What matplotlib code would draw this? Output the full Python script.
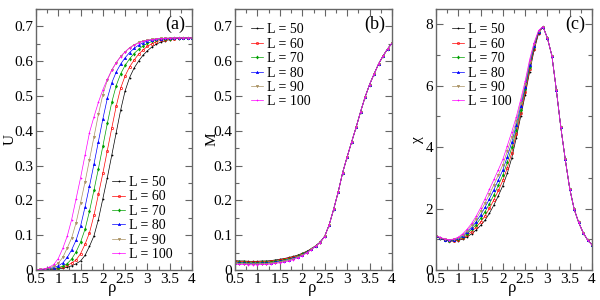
import matplotlib
matplotlib.use("Agg")
import matplotlib.pyplot as plt
from matplotlib.ticker import MultipleLocator

plt.rcParams['font.family'] = ['Liberation Serif', 'DejaVu Serif']
plt.rcParams['mathtext.fontset'] = 'stix'

rho = [0.5, 0.6, 0.7, 0.8, 0.9, 1.0, 1.1, 1.2, 1.3, 1.4, 1.5, 1.6, 1.7, 1.8,
       1.9, 2.0, 2.1, 2.2, 2.3, 2.4, 2.5, 2.6, 2.7, 2.8, 2.9, 3.0, 3.1, 3.2,
       3.3, 3.4, 3.5, 3.6, 3.7, 3.8, 3.9, 4.0]

sizes = [50, 60, 70, 80, 90, 100]

# Binder cumulant U
U_50 = [0.000, 0.000, 0.001, 0.001, 0.002, 0.003, 0.005, 0.008, 0.012, 0.018, 0.026, 0.042,
        0.068, 0.098, 0.145, 0.205, 0.265, 0.330, 0.395, 0.460, 0.515, 0.553, 0.580, 0.600,
        0.617, 0.630, 0.641, 0.649, 0.655, 0.659, 0.662, 0.664, 0.665, 0.666, 0.667, 0.667]
U_60 = [0.000, 0.001, 0.001, 0.002, 0.003, 0.006, 0.009, 0.013, 0.020, 0.029, 0.047, 0.074,
        0.107, 0.157, 0.217, 0.278, 0.343, 0.408, 0.471, 0.523, 0.558, 0.584, 0.603, 0.620,
        0.632, 0.643, 0.650, 0.656, 0.660, 0.662, 0.664, 0.665, 0.666, 0.667, 0.667, 0.667]
U_70 = [0.000, 0.001, 0.001, 0.002, 0.004, 0.007, 0.011, 0.018, 0.032, 0.052, 0.080, 0.117,
        0.169, 0.229, 0.291, 0.356, 0.421, 0.482, 0.530, 0.564, 0.588, 0.607, 0.622, 0.634,
        0.644, 0.651, 0.657, 0.660, 0.663, 0.664, 0.665, 0.666, 0.667, 0.667, 0.667, 0.667]
U_80 = [0.000, 0.001, 0.002, 0.004, 0.007, 0.012, 0.020, 0.036, 0.058, 0.086, 0.126, 0.181,
        0.241, 0.304, 0.369, 0.434, 0.493, 0.538, 0.569, 0.592, 0.610, 0.625, 0.637, 0.646,
        0.653, 0.658, 0.661, 0.663, 0.665, 0.666, 0.666, 0.667, 0.667, 0.667, 0.667, 0.667]
U_90 = [0.001, 0.002, 0.003, 0.006, 0.011, 0.020, 0.036, 0.063, 0.092, 0.136, 0.193, 0.253,
        0.317, 0.382, 0.447, 0.504, 0.545, 0.575, 0.596, 0.614, 0.627, 0.639, 0.647, 0.654,
        0.658, 0.661, 0.663, 0.665, 0.666, 0.666, 0.667, 0.667, 0.667, 0.667, 0.667, 0.667]
U_100 = [0.001, 0.002, 0.004, 0.008, 0.016, 0.033, 0.062, 0.097, 0.145, 0.205, 0.265, 0.330,
         0.395, 0.440, 0.482, 0.518, 0.548, 0.574, 0.596, 0.613, 0.627, 0.638, 0.646, 0.652,
         0.657, 0.660, 0.662, 0.664, 0.665, 0.666, 0.666, 0.667, 0.667, 0.667, 0.667, 0.667]

# Order parameter M
M_50 = [0.027, 0.026, 0.026, 0.025, 0.025, 0.025, 0.026, 0.026, 0.027, 0.029, 0.031, 0.033,
        0.036, 0.039, 0.043, 0.048, 0.054, 0.061, 0.070, 0.080, 0.097, 0.130, 0.175, 0.224,
        0.280, 0.325, 0.368, 0.410, 0.455, 0.497, 0.533, 0.563, 0.592, 0.615, 0.635, 0.652]
M_60 = [0.025, 0.024, 0.024, 0.023, 0.023, 0.023, 0.024, 0.024, 0.025, 0.027, 0.029, 0.031,
        0.034, 0.037, 0.041, 0.046, 0.053, 0.060, 0.070, 0.080, 0.097, 0.130, 0.175, 0.224,
        0.280, 0.325, 0.368, 0.410, 0.455, 0.497, 0.533, 0.563, 0.592, 0.615, 0.635, 0.652]
M_70 = [0.023, 0.022, 0.022, 0.021, 0.021, 0.021, 0.022, 0.022, 0.023, 0.025, 0.027, 0.029,
        0.032, 0.035, 0.039, 0.045, 0.052, 0.060, 0.069, 0.080, 0.097, 0.130, 0.175, 0.224,
        0.280, 0.325, 0.368, 0.410, 0.455, 0.497, 0.533, 0.563, 0.592, 0.615, 0.635, 0.652]
M_80 = [0.021, 0.020, 0.020, 0.019, 0.019, 0.019, 0.020, 0.020, 0.021, 0.023, 0.025, 0.027,
        0.030, 0.034, 0.038, 0.044, 0.051, 0.059, 0.069, 0.080, 0.097, 0.130, 0.175, 0.224,
        0.280, 0.325, 0.368, 0.410, 0.455, 0.497, 0.533, 0.563, 0.592, 0.615, 0.635, 0.652]
M_90 = [0.019, 0.018, 0.018, 0.017, 0.017, 0.017, 0.018, 0.018, 0.019, 0.021, 0.023, 0.025,
        0.028, 0.032, 0.037, 0.043, 0.050, 0.059, 0.069, 0.079, 0.097, 0.130, 0.175, 0.224,
        0.280, 0.325, 0.368, 0.410, 0.455, 0.497, 0.533, 0.563, 0.592, 0.615, 0.635, 0.652]
M_100 = [0.017, 0.016, 0.016, 0.015, 0.015, 0.015, 0.016, 0.016, 0.017, 0.019, 0.021, 0.023,
         0.026, 0.030, 0.035, 0.041, 0.049, 0.058, 0.068, 0.079, 0.096, 0.130, 0.175, 0.224,
         0.280, 0.325, 0.368, 0.410, 0.455, 0.497, 0.533, 0.563, 0.592, 0.615, 0.635, 0.652]

# Susceptibility chi
C_50 = [1.10, 1.02, 0.97, 0.94, 0.94, 0.96, 1.01, 1.08, 1.18, 1.30, 1.45, 1.62,
        1.85, 2.12, 2.42, 2.75, 3.15, 3.65, 4.30, 5.00, 5.70, 6.45, 7.15, 7.70,
        7.93, 7.55, 6.98, 5.86, 4.65, 3.60, 2.65, 1.98, 1.55, 1.22, 0.98, 0.82]
C_60 = [1.10, 1.03, 0.98, 0.95, 0.95, 0.98, 1.04, 1.13, 1.25, 1.39, 1.56, 1.76,
        2.01, 2.29, 2.59, 2.92, 3.33, 3.82, 4.44, 5.11, 5.79, 6.53, 7.20, 7.72,
        7.93, 7.55, 6.98, 5.86, 4.65, 3.60, 2.65, 1.98, 1.55, 1.22, 0.98, 0.82]
C_70 = [1.11, 1.04, 0.99, 0.96, 0.97, 1.00, 1.08, 1.18, 1.32, 1.48, 1.68, 1.90,
        2.16, 2.45, 2.76, 3.09, 3.51, 3.99, 4.57, 5.22, 5.88, 6.61, 7.25, 7.74,
        7.93, 7.55, 6.98, 5.86, 4.65, 3.60, 2.65, 1.98, 1.55, 1.22, 0.98, 0.82]
C_80 = [1.11, 1.04, 0.99, 0.97, 0.98, 1.03, 1.11, 1.23, 1.38, 1.57, 1.79, 2.04,
        2.32, 2.62, 2.93, 3.26, 3.69, 4.16, 4.71, 5.33, 5.97, 6.69, 7.30, 7.76,
        7.93, 7.55, 6.98, 5.86, 4.65, 3.60, 2.65, 1.98, 1.55, 1.22, 0.98, 0.82]
C_90 = [1.12, 1.05, 1.00, 0.98, 1.00, 1.05, 1.15, 1.28, 1.45, 1.66, 1.91, 2.18,
        2.47, 2.78, 3.10, 3.43, 3.87, 4.33, 4.84, 5.44, 6.06, 6.77, 7.35, 7.78,
        7.93, 7.55, 6.98, 5.86, 4.65, 3.60, 2.65, 1.98, 1.55, 1.22, 0.98, 0.82]
C_100 = [1.12, 1.06, 1.01, 0.99, 1.01, 1.07, 1.18, 1.33, 1.52, 1.75, 2.02, 2.32,
         2.63, 2.95, 3.27, 3.60, 4.05, 4.50, 4.98, 5.55, 6.15, 6.85, 7.40, 7.80,
         7.93, 7.55, 6.98, 5.86, 4.65, 3.60, 2.65, 1.98, 1.55, 1.22, 0.98, 0.82]

U_all = [U_50, U_60, U_70, U_80, U_90, U_100]
M_all = [M_50, M_60, M_70, M_80, M_90, M_100]
C_all = [C_50, C_60, C_70, C_80, C_90, C_100]

colors = ['black', '#ff0000', '#00a000', '#0000ff', '#a89060', '#ff00ff']
markers = ['.', 'o', 'd', '^', 'v', '+']

fig = plt.figure(figsize=(6, 3), dpi=100)
W, H = 600.0, 300.0
boxes = [(36, 192), (235, 392), (436, 592)]
top_px, bot_px = 9, 270

panels = [
    (U_all, 'U', (0, 0.75), 0.1, 0.05, '(a)', (0.49, 0.36), -0.125),
    (M_all, 'M', (0, 0.75), 0.1, 0.05, '(b)', (0.10, 0.945), -0.105),
    (C_all, 'χ', (0, 8.5), 2, 1, '(c)', (0.10, 0.945), -0.08),
]

for (l, r), (data, ylab, ylim, ymaj, ymin, tag, legpos, ylx) in zip(boxes, panels):
    ax = fig.add_axes([l / W, 1 - bot_px / H, (r - l) / W, (bot_px - top_px) / H])
    for L, y, c, m in zip(sizes, data, colors, markers):
        mfc = 'none' if m == 'o' else c
        ax.plot(rho, y, color=c, lw=0.5, marker=m, ms=1.6, mew=0.5,
                mfc=mfc, label='L = %d' % L)
    ax.set_xlim(0.5, 4)
    ax.set_ylim(*ylim)
    ax.xaxis.set_major_locator(MultipleLocator(0.5))
    ax.xaxis.set_minor_locator(MultipleLocator(0.25))
    ax.yaxis.set_major_locator(MultipleLocator(ymaj))
    ax.yaxis.set_minor_locator(MultipleLocator(ymin))
    ax.xaxis.set_major_formatter(plt.FuncFormatter(lambda v, p: ('%g' % v)))
    ax.yaxis.set_major_formatter(plt.FuncFormatter(lambda v, p: ('%g' % v)))
    ax.tick_params(which='both', direction='in', top=True, right=True,
                   labelsize=11, color='0.4', pad=2)
    ax.tick_params(which='major', length=5, width=0.8)
    ax.tick_params(which='minor', length=3, width=0.8)
    for s in ax.spines.values():
        s.set_color('0.4')
        s.set_linewidth(1.0)
    ax.set_xlabel('ρ', fontsize=12)
    ax.xaxis.set_label_coords(0.49, -0.04)
    ax.set_ylabel(ylab, fontsize=11)
    ax.yaxis.set_label_coords(ylx, 0.5)
    ax.text(0.955, 0.943, tag, transform=ax.transAxes, ha='right', va='center',
            fontsize=13)
    ax.legend(loc='upper left', bbox_to_anchor=legpos, frameon=False,
              fontsize=10, handlelength=0.9, handletextpad=0.3,
              labelspacing=0.1, borderpad=0, borderaxespad=0, markerscale=1.0)

fig.savefig('out.png', dpi=100)
